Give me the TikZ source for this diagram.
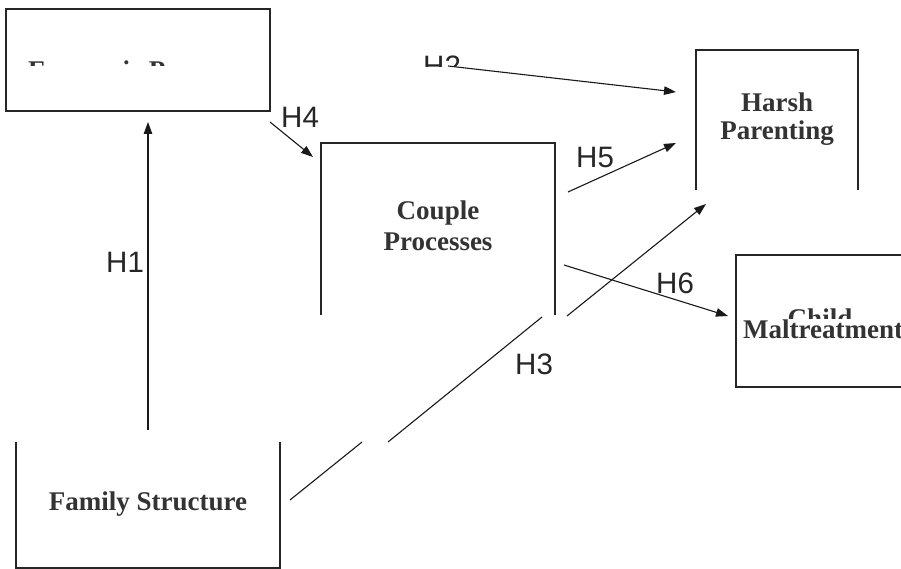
\documentclass[tikz,border=0pt]{standalone}
\usepackage{fontspec}
\setmainfont{Liberation Serif}
\newfontfamily\hfont{Liberation Sans}
\usetikzlibrary{arrows.meta}
\begin{document}
\begin{tikzpicture}[x=1pt,y=-1pt,
  boxline/.style={line width=1.2pt, draw=black!85},
  conn/.style={line width=1.1pt, draw=black!90, -{Triangle[length=12pt,width=8.5pt]}},
  plainline/.style={line width=1.1pt, draw=black!90},
  lbl/.style={font=\hfont\fontsize{29.5}{29.5}\selectfont, inner sep=0pt, anchor=base west, text=black!85},
  btxt/.style={font=\bfseries\fontsize{27}{30}\selectfont, inner sep=0pt, anchor=base, text=black!80}]
\useasboundingbox (0,0) rectangle (901,569);
\fill[white] (0,0) rectangle (901,569);

% Economic Pressure box (text clipped)
\draw[boxline] (6,9) rectangle (270,111);
\begin{scope}
  \clip (0,0) rectangle (268,66);
  \node[btxt, anchor=base west] (econ) at (28,80) {Economic Pressure};
\end{scope}
\begin{scope}
  \clip (300,0) rectangle (480,67);
  \node[lbl] (h2) at (423,77) {H2};
\end{scope}

% Harsh Parenting box (open bottom)
\draw[boxline] (696,190) -- (696,50) -- (858,50) -- (858,190);
\node[btxt] (harsh) at (777,112) {Harsh};
\node[btxt] (parent) at (777,140) {Parenting};

% Couple Processes box (open bottom)
\draw[boxline] (321,315) -- (321,143) -- (555,143) -- (555,315);
\node[btxt] (couple) at (438,219) {Couple};
\node[btxt] (proc) at (438,250) {Processes};

% Child Maltreatment box
\draw[boxline] (905,255) -- (736,255) -- (736,387) -- (905,387);
\begin{scope}
  \clip (700,250) rectangle (901,318);
  \node[btxt] (child) at (820,327) {Child};
\end{scope}
\node[btxt, anchor=base west] (malt) at (743,338) {Maltreatment};

% Family Structure box
\draw[boxline] (16,442) -- (16,568) -- (280,568) -- (280,442);
\node[btxt] (fam) at (148,510) {Family Structure};

% connectors
\coordinate (h1s) at (148,430);
\coordinate (h1e) at (148,122);
\draw[conn] (h1s) -- (h1e);

\coordinate (h2s) at (448,66);
\coordinate (h2e) at (676,92);
\draw[conn] (h2s) -- (h2e);

\coordinate (h4s) at (270,122);
\coordinate (h4e) at (313,157);
\draw[conn] (h4s) -- (h4e);

\coordinate (h5s) at (568,192);
\coordinate (h5e) at (676,143);
\draw[conn] (h5s) -- (h5e);

\coordinate (h6s) at (564,265);
\coordinate (h6e) at (728,316);
\draw[conn] (h6s) -- (h6e);

\coordinate (h3a) at (290,500);
\coordinate (h3b) at (362,442);
\coordinate (h3c) at (388,442);
\coordinate (h3d) at (542,317);
\coordinate (h3f) at (567,316);
\coordinate (h3g) at (706,204);
\draw[plainline] (h3a) -- (h3b);
\draw[plainline] (h3c) -- (h3d);
\draw[conn] (h3f) -- (h3g);

% labels
\node[lbl] (l1) at (106,272) {H1};
\node[lbl] (l4) at (281,128) {H4};
\node[lbl] (l5) at (576,168) {H5};
\node[lbl] (l6) at (656,293) {H6};
\node[lbl] (l3) at (515,374) {H3};
\end{tikzpicture}
\end{document}
